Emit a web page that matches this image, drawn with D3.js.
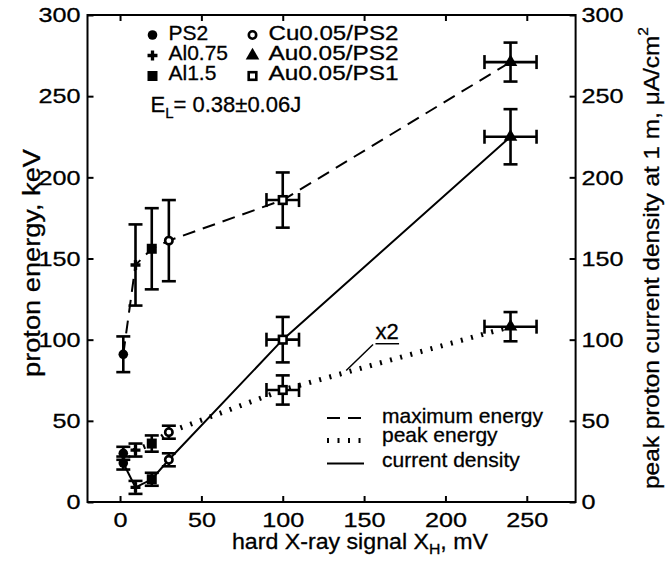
<!DOCTYPE html>
<html><head><meta charset="utf-8">
<script src="https://cdn.jsdelivr.net/npm/d3@7"></script>
<style>
body{margin:0;background:#fff}
text{font-family:"Liberation Sans",Arial,Helvetica,sans-serif;fill:#000;stroke:#000;stroke-width:0.3}
</style>
</head><body>
<svg id="chart" width="669" height="561"></svg>
<script>
// ---- data ----
const samples = ["PS2", "Al0.75", "Al1.5", "Cu0.05/PS2", "Au0.05/PS1", "Au0.05/PS2"];
const xSignal = [2, 9.5, 19.5, 30, 100, 240];          // hard X-ray signal, mV
const xSignalErr = [0, 0, 0, 0, 10, 16];
const maxEnergy = [91, 146, 156, 161, 186, 271];        // keV
const maxEnergyErr = [11, 25, 25, 25, 17, 12];
const peakEnergy = [30, 32, 36, 43, 69, 108];           // keV
const peakEnergyErr = [4, 4, 5, 4, 9, 9];
const currentDensity = [24, 9, 14, 26, 100, 225];       // µA/cm²
const currentDensityErr = [4, 4, 4, 4, 14, 17];
const xTicks = [0, 50, 100, 150, 200, 250];
const yTicks = [0, 50, 100, 150, 200, 250, 300];
const legendSamples = ["PS2", "Al0.75", "Al1.5", "Cu0.05/PS2", "Au0.05/PS2", "Au0.05/PS1"];
const legendLines = ["maximum energy", "peak energy", "current density"];

// ---- styles ----
const markerOf = {"PS2":"dot","Al0.75":"cross","Al1.5":"square","Cu0.05/PS2":"ocircle","Au0.05/PS2":"triangle","Au0.05/PS1":"osquare"};
const lineStyle = {
  "maximum energy": {dash:"13,8", width:2},
  "peak energy": {dash:"2,8.5", width:5},
  "current density": {dash:null, width:2}
};

const svg = d3.select("#chart");
const x = d3.scaleLinear().domain([-20, 280]).range([87.5, 575.6]);
const y = d3.scaleLinear().domain([0, 300]).range([502, 15]);

// frame
svg.append("rect").attr("x", x(-20)).attr("y", y(300))
  .attr("width", x(280)-x(-20)).attr("height", y(0)-y(300))
  .attr("fill","none").attr("stroke","#000").attr("stroke-width",2);

function styleAxis(g){
  g.select(".domain").remove();
  g.selectAll(".tick line").attr("stroke","#000").attr("stroke-width",2);
  g.selectAll(".tick text").attr("font-size",21).attr("fill","#000")
    .attr("font-family","Liberation Sans, Arial, sans-serif")
    .attr("textLength", function(){ return this.textContent.length*14; })
    .attr("lengthAdjust","spacingAndGlyphs");
}
svg.append("g").attr("transform",`translate(0,${y(0)})`)
  .call(d3.axisBottom(x).tickValues(xTicks).tickSizeInner(-6).tickSizeOuter(0).tickPadding(10))
  .call(styleAxis);
svg.append("g").attr("transform",`translate(0,${y(300)})`)
  .call(d3.axisTop(x).tickValues(xTicks).tickSizeInner(-6).tickSizeOuter(0).tickFormat(""))
  .call(styleAxis);
svg.append("g").attr("transform",`translate(${x(-20)},0)`)
  .call(d3.axisLeft(y).tickValues(yTicks).tickSizeInner(-6).tickSizeOuter(0).tickPadding(7))
  .call(styleAxis);
svg.append("g").attr("transform",`translate(${x(280)},0)`)
  .call(d3.axisRight(y).tickValues(yTicks).tickSizeInner(-6).tickSizeOuter(0).tickPadding(6))
  .call(styleAxis);

// axis titles
const xt = svg.append("text").attr("x", 360).attr("y", 549).attr("text-anchor","middle").attr("font-size",22)
  .attr("textLength",256).attr("lengthAdjust","spacingAndGlyphs");
xt.append("tspan").text("hard X-ray signal X");
xt.append("tspan").attr("font-size",15).attr("dy",5).text("H");
xt.append("tspan").attr("dy",-5).text(", mV");

svg.append("text").attr("transform","translate(40,263) rotate(-90)")
  .attr("text-anchor","middle").attr("font-size",23)
  .attr("textLength",228).attr("lengthAdjust","spacingAndGlyphs")
  .text("proton energy, keV");

const rt = svg.append("text").attr("transform","translate(659,258) rotate(-90)")
  .attr("text-anchor","middle").attr("font-size",22)
  .attr("textLength",462).attr("lengthAdjust","spacingAndGlyphs");
rt.append("tspan").text("peak proton current density at 1 m, \u03BCA/cm");
rt.append("tspan").attr("font-size",14).attr("dy",-11).text("2");

// series
const seriesDefs = [
  {name:"maximum energy", v:maxEnergy, e:maxEnergyErr},
  {name:"peak energy", v:peakEnergy, e:peakEnergyErr},
  {name:"current density", v:currentDensity, e:currentDensityErr}
];
const line = d3.line().x(d=>x(d.x)).y(d=>y(d.v));

seriesDefs.forEach(s=>{
  const pts = samples.map((n,i)=>({n, x:xSignal[i], xe:xSignalErr[i], v:s.v[i], e:s.e[i]}));
  const st = lineStyle[s.name];
  svg.append("path").datum(pts).attr("d", line).attr("fill","none")
    .attr("stroke","#000").attr("stroke-width", st.width)
    .attr("stroke-dasharray", st.dash);
  s.pts = pts;
});

// error bars
const cap = 7;
seriesDefs.forEach(s=>{
  const g = svg.append("g").attr("stroke","#000").attr("stroke-width",2.6);
  s.pts.forEach(p=>{
    const cx = x(p.x), y1 = y(p.v - p.e), y2 = y(p.v + p.e);
    g.append("line").attr("x1",cx).attr("x2",cx).attr("y1",y1).attr("y2",y2);
    g.append("line").attr("x1",cx-cap).attr("x2",cx+cap).attr("y1",y1).attr("y2",y1);
    g.append("line").attr("x1",cx-cap).attr("x2",cx+cap).attr("y1",y2).attr("y2",y2);
    if (p.xe > 0){
      const cy = y(p.v), x1 = x(p.x - p.xe), x2 = x(p.x + p.xe);
      g.append("line").attr("x1",x1).attr("x2",x2).attr("y1",cy).attr("y2",cy);
      g.append("line").attr("x1",x1).attr("x2",x1).attr("y1",cy-cap).attr("y2",cy+cap);
      g.append("line").attr("x1",x2).attr("x2",x2).attr("y1",cy-cap).attr("y2",cy+cap);
    }
  });
});

function marker(g, type, cx, cy){
  if (type==="dot") g.append("circle").attr("cx",cx).attr("cy",cy).attr("r",4.8).attr("fill","#000");
  else if (type==="cross") g.append("path").attr("transform",`translate(${cx},${cy})`)
    .attr("d", d3.symbol(d3.symbolCross, 55)()).attr("fill","#000");
  else if (type==="square") g.append("rect").attr("x",cx-5).attr("y",cy-5).attr("width",10).attr("height",10).attr("fill","#000");
  else if (type==="ocircle") g.append("circle").attr("cx",cx).attr("cy",cy).attr("r",3.7).attr("fill","#fff").attr("stroke","#000").attr("stroke-width",2.6);
  else if (type==="triangle") g.append("path").attr("transform",`translate(${cx},${cy})`)
    .attr("d", d3.symbol(d3.symbolTriangle, 80)()).attr("fill","#000");
  else if (type==="osquare") g.append("rect").attr("x",cx-3.8).attr("y",cy-3.8).attr("width",7.6).attr("height",7.6).attr("fill","#fff").attr("stroke","#000").attr("stroke-width",2.6);
}
const mg = svg.append("g");
seriesDefs.forEach(s=> s.pts.forEach(p=> marker(mg, markerOf[p.n], x(p.x), y(p.v))));

// sample legend
legendSamples.forEach((n,i)=>{
  const col = Math.floor(i/3), row = i%3;
  const mx = col ? 252.5 : 152.5, my = 35 + row*20.5;
  marker(svg, markerOf[n], mx, my);
  svg.append("text").attr("x", mx+16).attr("y", 40+row*20).attr("font-size",21)
    .attr("textLength", col ? 130 : null).attr("lengthAdjust","spacingAndGlyphs").text(n);
});
const el = svg.append("text").attr("x",150.5).attr("y",112).attr("font-size",22);
el.append("tspan").text("E");
el.append("tspan").attr("font-size",15).attr("dy",6).text("L");
el.append("tspan").attr("dy",-6).text("= 0.38\u00B10.06J");

// line legend
const lgY = [418, 440.5, 463.5], lgT = [423, 442, 467];
legendLines.forEach((n,i)=>{
  const st = lineStyle[n];
  svg.append("line").attr("x1",327).attr("x2",364).attr("y1",lgY[i]).attr("y2",lgY[i])
    .attr("stroke","#000").attr("stroke-width",st.width).attr("stroke-dasharray",st.dash);
  svg.append("text").attr("x",382).attr("y",lgT[i]).attr("font-size",21).text(n);
});

// "x2" annotation on the peak-energy line
svg.append("text").attr("x", x(157)).attr("y", y(100.5)).attr("font-size",22).text("x2");
svg.append("line").attr("x1",x(157)).attr("x2",x(171.5)).attr("y1",y(97.5)).attr("y2",y(97.5))
  .attr("stroke","#000").attr("stroke-width",1.5);
svg.append("line").attr("x1",x(155.5)).attr("x2",x(139)).attr("y1",y(97)).attr("y2",y(81))
  .attr("stroke","#000").attr("stroke-width",1.5);
</script>
</body></html>
